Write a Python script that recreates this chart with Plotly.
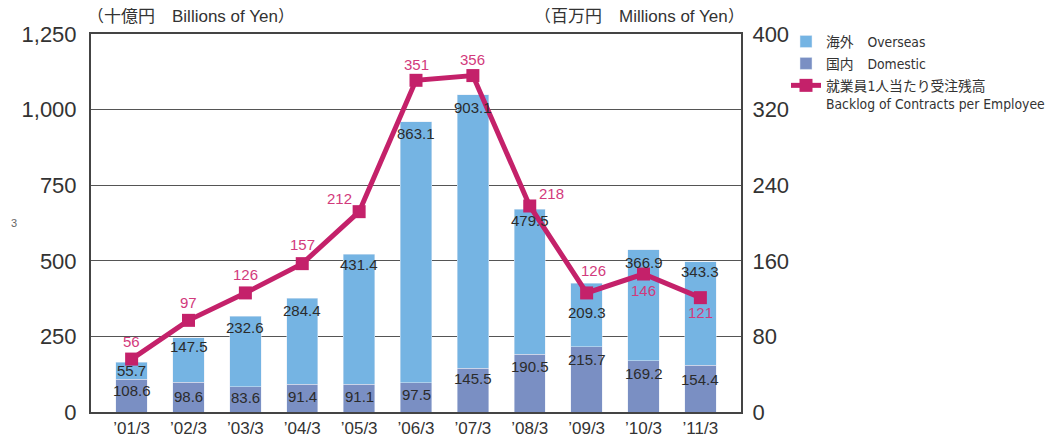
import plotly.graph_objects as go

categories = ["’01/3", "’02/3", "’03/3", "’04/3", "’05/3", "’06/3", "’07/3", "’08/3", "’09/3", "’10/3", "’11/3"]
domestic = [108.6, 98.6, 83.6, 91.4, 91.1, 97.5, 145.5, 190.5, 215.7, 169.2, 154.4]
overseas = [55.7, 147.5, 232.6, 284.4, 431.4, 863.1, 903.1, 479.5, 209.3, 366.9, 343.3]
backlog = [56, 97, 126, 157, 212, 351, 356, 218, 126, 146, 121]

dom_shift = [-11, -14, -11, -12, -12, -12, -10, -12, -13, -13, -14]
ovs_shift = [-8, -9, -11, -12, -10, -12, -13, -11, -29, -13, -10]
line_shift = [(0, 18), (0, 18), (0, 18), (0, 19), (-20, 13), (0, 16), (0, 16), (22, 12), (7, 22), (0, -16), (0, -15)]

C_OVS = "#75b4e3"
C_DOM = "#7a8fc3"
C_LINE = "#c4216a"
C_LBL = "#d23a7c"
BASE = "Liberation Sans, Noto Sans CJK JP, sans-serif"
LEG = "DejaVu Sans Condensed, Noto Sans CJK JP, sans-serif"

W, H = 1050, 432

fig = go.Figure()
fig.add_trace(go.Bar(x=categories, y=domestic, name="国内　Domestic", marker_color=C_DOM,
                     width=0.55, legendrank=2, legendgroup="d", hoverinfo="skip"))
fig.add_trace(go.Bar(x=categories, y=overseas, name="海外　Overseas", marker_color=C_OVS,
                     width=0.55, legendrank=1, legendgroup="o", hoverinfo="skip"))
fig.add_trace(go.Scatter(x=categories, y=backlog, yaxis="y2", mode="lines+markers",
                         name="就業員1人当たり受注残高<br>Backlog of Contracts per Employee",
                         line=dict(color=C_LINE, width=5),
                         marker=dict(symbol="square", size=13, color=C_LINE),
                         legendrank=3, legendgroup="l", hoverinfo="skip"))

ann = []
for i, c in enumerate(categories):
    ann.append(dict(x=c, y=domestic[i], yref="y", text=f"{domestic[i]:.1f}", showarrow=False,
                    yshift=dom_shift[i], font=dict(family=BASE, size=15, color="#2b2b2b")))
    ann.append(dict(x=c, y=domestic[i] + overseas[i], yref="y", text=f"{overseas[i]:.1f}", showarrow=False,
                    yshift=ovs_shift[i], font=dict(family=BASE, size=15, color="#2b2b2b")))
    xs, ys = line_shift[i]
    ann.append(dict(x=c, y=backlog[i], yref="y2", text=str(backlog[i]), showarrow=False,
                    xshift=xs, yshift=ys, font=dict(family=BASE, size=15, color=C_LBL)))

ann.append(dict(x=0, y=1, xref="paper", yref="paper", xanchor="left", yanchor="bottom",
                xshift=-6, yshift=6, text="（十億円　Billions of Yen）", showarrow=False,
                font=dict(family=BASE, size=17, color="#333")))
ann.append(dict(x=1, y=1, xref="paper", yref="paper", xanchor="right", yanchor="bottom",
                xshift=6, yshift=6, text="（百万円　Millions of Yen）", showarrow=False,
                font=dict(family=BASE, size=17, color="#333")))
ann.append(dict(x=0, y=0.5, xref="paper", yref="paper", xanchor="left", yanchor="middle",
                xshift=-82, yshift=0, text="3", showarrow=False,
                font=dict(family=BASE, size=11, color="#666")))

fig.update_layout(
    width=W, height=H,
    margin=dict(l=83, r=317, t=26, b=28, autoexpand=False),
    barmode="stack",
    paper_bgcolor="white", plot_bgcolor="white",
    font=dict(family=BASE, color="#333"),
    showlegend=True,
    legend=dict(xref="container", yref="container", x=778 / W, y=1 - 18 / H,
                xanchor="left", yanchor="top", valign="top", traceorder="grouped",
                font=dict(family=LEG, size=13.8, color="#333"), tracegroupgap=1,
                bgcolor="rgba(0,0,0,0)"),
    xaxis=dict(type="category", showline=True, linecolor="#444", linewidth=2, mirror=True,
               ticks="", tickfont=dict(family=BASE, size=17, color="#333"), showgrid=False),
    yaxis=dict(range=[0, 1250], tickvals=[0, 250, 500, 750, 1000, 1250],
               ticktext=["0", "250", "500", "750", "1,000", "1,250"],
               showgrid=True, gridcolor="#555", gridwidth=1, zeroline=False,
               showline=True, linecolor="#444", linewidth=2, mirror=True, ticks="",
               ticklabelstandoff=8,
               tickfont=dict(family=BASE, size=22, color="#333")),
    yaxis2=dict(range=[0, 400], tickvals=[0, 80, 160, 240, 320, 400], overlaying="y", side="right",
                showgrid=False, zeroline=False, showline=True, linecolor="#444", linewidth=2,
                ticks="", ticklabelstandoff=5,
                tickfont=dict(family=BASE, size=22, color="#333")),
    annotations=ann,
)

fig.write_html("out.html")
